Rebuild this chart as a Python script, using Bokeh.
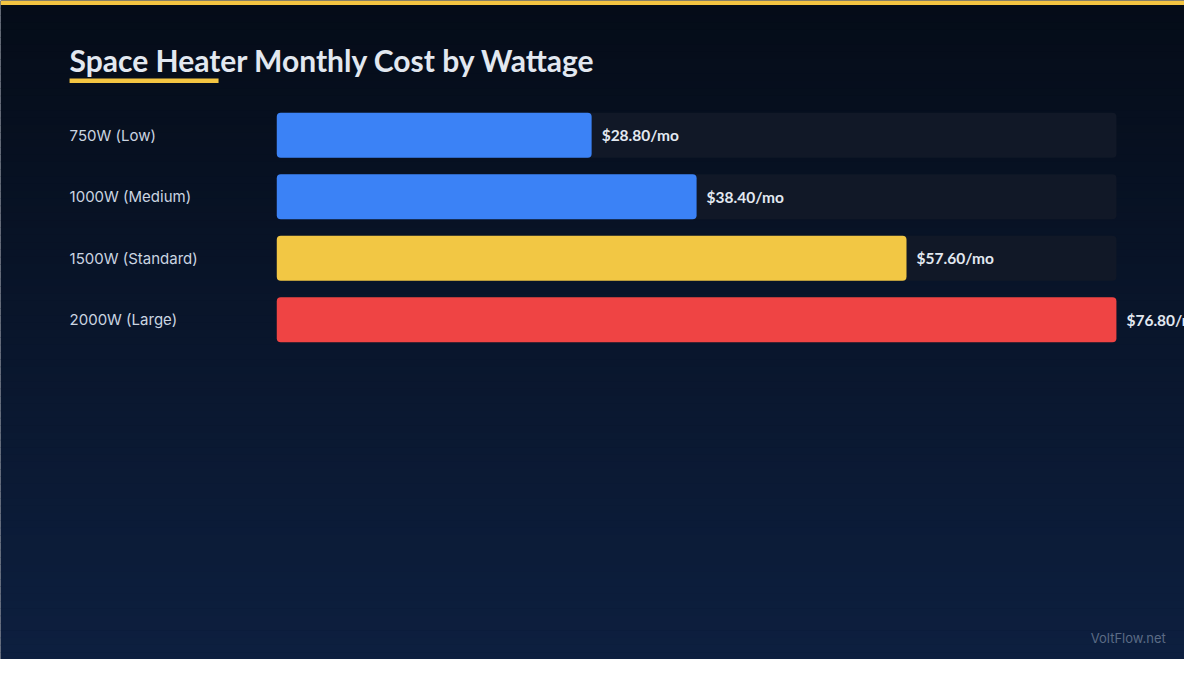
from bokeh.plotting import figure
from bokeh.models import Range1d, ColumnDataSource
from bokeh.core.properties import value
from bokeh.embed import file_html
from bokeh.resources import INLINE

# ---- data ----
categories = ["750W (Low)", "1000W (Medium)", "1500W (Standard)", "2000W (Large)"]
costs = [28.80, 38.40, 57.60, 76.80]
value_labels = [f"${c:.2f}/mo" for c in costs]
title_text = "Space Heater Monthly Cost by Wattage"
footer_text = "VoltFlow.net"

# ---- styles ----
bar_colors = ["#3b82f6", "#3b82f6", "#f2c744", "#ef4444"]
track_color = "#111827"
accent = "#f4c542"
bg_top = (5, 12, 24)
bg_bottom = (13, 31, 63)

# ---- layout (reference pixels) ----
W, H = 1184, 659
RW, RH = 1200, 675
bar_left_px, bar_right_px = 280, 1131
ppu = (bar_right_px - bar_left_px) / max(costs)
x_start = -bar_left_px / ppu
x_end = (RW - bar_left_px) / ppu
row0_px, row_step = 138, 63
y_top = -row0_px / row_step
y_bottom = (RH - row0_px) / row_step


def dx(px):
    return x_start + px / ppu


def dy(py):
    return (py - row0_px) / row_step


p = figure(width=W, height=H, x_range=Range1d(x_start, x_end),
           y_range=Range1d(y_bottom, y_top), output_backend="svg",
           toolbar_location=None, min_border=0, x_axis_type=None,
           y_axis_type=None)
p.grid.visible = False
p.outline_line_color = None
p.background_fill_color = "#08152b"
p.border_fill_color = "#08152b"

# background gradient strips (decoration)
n = 90
tops, bots, cols = [], [], []
for i in range(n):
    t = i / (n - 1)
    c = tuple(int(round(a + (b - a) * t)) for a, b in zip(bg_top, bg_bottom))
    tops.append(dy(RH * i / n))
    bots.append(dy(RH * (i + 1) / n) + 0.01)
    cols.append("#%02x%02x%02x" % c)
p.quad(left=x_start, right=x_end, top=tops, bottom=bots, fill_color=cols,
       line_color=None)

# top accent line
p.quad(left=x_start, right=x_end, top=dy(0), bottom=dy(4.5), fill_color=accent,
       line_color=None)

# title + underline
p.text(x=[dx(70)], y=[dy(61)], text=[title_text], text_font=value("Lato"),
       text_font_style="bold", text_font_size="30px", text_color="#e2e8f0",
       text_baseline="middle", text_align="left")
p.quad(left=dx(70), right=dx(221), top=dy(80), bottom=dy(84.5),
       fill_color=accent, line_color=None)

src = ColumnDataSource(dict(y=list(range(len(categories))), cost=costs,
                            cat=categories, lab=value_labels, color=bar_colors,
                            track=[max(costs)] * len(costs)))

# tracks
p.hbar(y="y", left=0, right="track", height=46 / row_step, source=src,
       fill_color=track_color, line_color=None, border_radius=4)
# bars
p.hbar(y="y", left=0, right="cost", height=46 / row_step, source=src,
       fill_color="color", line_color=None, border_radius=4)

# category labels
p.text(x=dx(70), y="y", text="cat", source=src, text_font=value("Inter"),
       text_font_size="15px", text_color="#cbd5e1", text_baseline="middle",
       text_align="left")
# value labels
p.text(x="cost", y="y", text="lab", source=src, x_offset=10,
       text_font=value("Lato"), text_font_style="bold", text_font_size="15.5px",
       text_color="#e2e8f0", text_baseline="middle", text_align="left")

# footer
p.text(x=[dx(1181)], y=[dy(653)], text=[footer_text], text_font=value("Inter"),
       text_font_size="13px", text_color="#5b6b85", text_baseline="middle",
       text_align="right")

open("out.html", "w").write(file_html(p, INLINE))
